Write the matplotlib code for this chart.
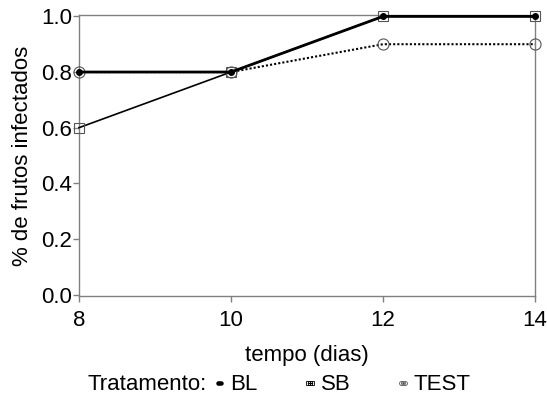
import matplotlib
matplotlib.use("Agg")
import matplotlib.pyplot as plt

plt.rcParams['font.family'] = ['Liberation Sans', 'DejaVu Sans']

tempo = [8, 10, 12, 14]
bl = [0.8, 0.8, 1.0, 1.0]
sb = [0.6, 0.8, 1.0, 1.0]
test = [0.8, 0.8, 0.9, 0.9]
xticks = [8, 10, 12, 14]
yticks = [0.0, 0.2, 0.4, 0.6, 0.8, 1.0]

FS = 16

fig = plt.figure(figsize=(5.47, 4.05), dpi=100)
ax = fig.add_axes([79 / 547, 1 - 296 / 405, 456 / 547, 281 / 405])

ax.plot(tempo, test, linestyle=(0, (1, 1)), color='black', linewidth=1.5,
        marker='o', markersize=8, markerfacecolor='none', markeredgecolor='#555555',
        markeredgewidth=0.8, label='TEST', clip_on=False, zorder=3)
ax.plot(tempo, sb, linestyle='-', color='black', linewidth=1.2,
        marker='s', markersize=7, markerfacecolor='none', markeredgecolor='#555555',
        markeredgewidth=0.8, label='SB', clip_on=False, zorder=4)
ax.plot(tempo, bl, linestyle='-', color='black', linewidth=2.0,
        marker='o', markersize=4, markerfacecolor='black', markeredgecolor='black',
        label='BL', clip_on=False, zorder=5)

ax.set_xlim(8, 14)
ax.set_ylim(-0.005, 1.005)
ax.set_xticks(xticks)
ax.set_xticklabels([str(v) for v in xticks])
ax.set_yticks(yticks)
ax.set_yticklabels([f"{v:.1f}" for v in yticks])
for s in ax.spines.values():
    s.set_color('#808080')
    s.set_linewidth(1.0)
ax.tick_params(axis='both', colors='#808080', labelcolor='black', labelsize=FS,
               length=4, width=1.0)
ax.tick_params(axis='y', pad=1)
ax.tick_params(axis='x', pad=6)
ax.set_xlabel('tempo (dias)', fontsize=FS, labelpad=10)
ax.set_ylabel('% de frutos infectados', fontsize=FS, labelpad=6)

fig.text(88 / 547, 1 - 385 / 405, 'Tratamento:', fontsize=FS, va='center', ha='left')
h_bl, = ax.plot([], [], '-', color='black', linewidth=1.2, marker='o', markersize=2.2)
h_sb, = ax.plot([], [], '-', color='black', linewidth=1.0, marker='s', markersize=2.8,
                markerfacecolor='none', markeredgewidth=0.6)
h_te, = ax.plot([], [], linestyle=(0, (1, 1)), color='#555555', linewidth=0.8, marker='o',
                markersize=2.8, markerfacecolor='none', markeredgewidth=0.6)
fig.legend([h_bl, h_sb, h_te], ['BL', 'SB', 'TEST'], ncol=3, frameon=False,
           fontsize=FS, handlelength=0.75, handletextpad=0.1, columnspacing=2.0,
           loc='center left', bbox_to_anchor=(211 / 547, 1 - 385 / 405),
           borderpad=0, borderaxespad=0, numpoints=3)

fig.savefig('out.png', dpi=100)
